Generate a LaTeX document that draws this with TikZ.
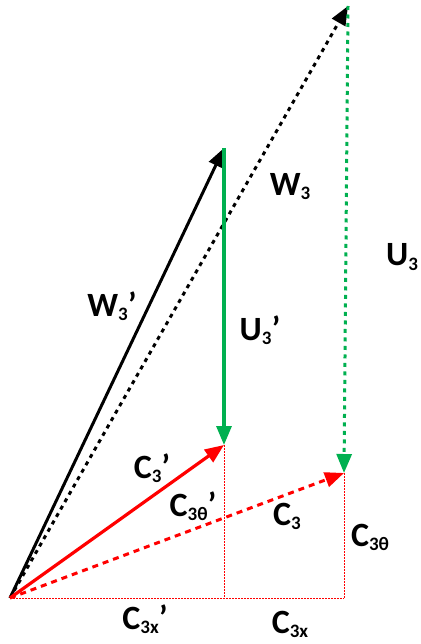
\documentclass[tikz,border=0pt]{standalone}
\usepackage{fontspec}
\setmainfont{Carlito}
\usetikzlibrary{arrows.meta}
\definecolor{vgreen}{RGB}{0,176,80}
\definecolor{vred}{RGB}{255,0,0}
\newcommand\sbs[1]{\raisebox{-0.12em}{\fontsize{19}{19}\selectfont #1}}
\tikzset{
  lbl/.style={font=\fontsize{34}{34}\selectfont\bfseries, inner sep=0pt},
  tip/.style={-{Triangle[length=19pt,width=15pt]}},
  blk/.style={black, line width=3pt, tip},
  blkdot/.style={black, line width=3pt, dash pattern=on 4pt off 4.5pt, tip},
  grn/.style={vgreen, line width=3.2pt, tip},
  grndot/.style={vgreen, line width=3pt, dash pattern=on 4pt off 4.5pt, tip},
  redc/.style={vred, line width=3.2pt, tip},
  reddot/.style={vred, line width=3pt, dash pattern=on 6pt off 5pt, tip},
  thin/.style={vred, line width=1pt, dash pattern=on 1.5pt off 1.5pt},
}
\begin{document}
\begin{tikzpicture}[x=1pt,y=-1pt]
\useasboundingbox (0,0) rectangle (420,644);
\coordinate (O) at (10,598);
\coordinate (A) at (224,445);
\coordinate (B) at (224,148);
\coordinate (C) at (344,473);
\coordinate (D) at (348,6);
\coordinate (Ab) at (224,598);
\coordinate (Cb) at (344,598);
% thin construction lines
\draw[thin] (O) -- (Cb);
\draw[thin] (A) -- (Ab);
\draw[thin] (C) -- (Cb);
% vectors
\draw[blkdot] (O) -- (D);
\draw[blk] (O) -- (B);
\draw[grndot] (D) -- (C);
\draw[grn] (B) -- (A);
\draw[reddot] (O) -- (C);
\draw[redc] (O) -- (A);
% labels
\node[lbl] (lW3p) at (112,306) {W\sbs{3}’};
\node[lbl] (lW3) at (290,187) {W\sbs{3}};
\node[lbl] (lU3) at (402,257) {U\sbs{3}};
\node[lbl] (lU3p) at (260,330) {U\sbs{3}’};
\node[lbl] (lC3p) at (152,468) {C\sbs{3}’};
\node[lbl] (lC3tp) at (193,506) {C\sbs{3θ}’};
\node[lbl] (lC3) at (287,516) {C\sbs{3}};
\node[lbl] (lC3t) at (370,537) {C\sbs{3θ}};
\node[lbl] (lC3xp) at (145,619) {C\sbs{3x}’};
\node[lbl] (lC3x) at (290,624) {C\sbs{3x}};
\end{tikzpicture}
\end{document}
